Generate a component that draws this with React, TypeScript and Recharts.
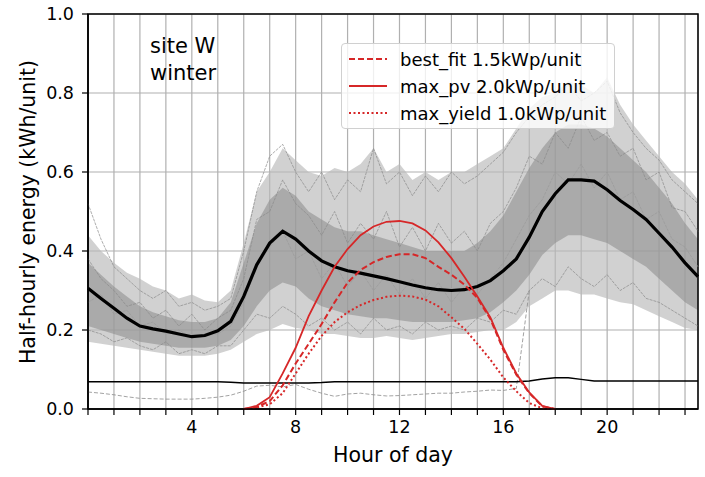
import React from "react";
import {
  ComposedChart,
  Line,
  Area,
  XAxis,
  YAxis,
  CartesianGrid,
  ReferenceArea,
} from "recharts";

const FONT = "'DejaVu Sans', 'Liberation Sans', sans-serif";
const RED = "#d62728";

// half-hourly time of day
const hours = [
  0, 0.5, 1, 1.5, 2, 2.5, 3, 3.5, 4, 4.5, 5, 5.5, 6, 6.5, 7, 7.5, 8, 8.5, 9,
  9.5, 10, 10.5, 11, 11.5, 12, 12.5, 13, 13.5, 14, 14.5, 15, 15.5, 16, 16.5,
  17, 17.5, 18, 18.5, 19, 19.5, 20, 20.5, 21, 21.5, 22, 22.5, 23, 23.5,
];
const hourTicks = [
  0, 1, 2, 3, 4, 5, 6, 7, 8, 9, 10, 11, 12, 13, 14, 15, 16, 17, 18, 19, 20,
  21, 22, 23,
];
const energyTicks = [0, 0.2, 0.4, 0.6, 0.8, 1.0];

// mean demand profile (thick black)
const meanProfile = [
  0.306, 0.28, 0.255, 0.23, 0.21, 0.203, 0.197, 0.19, 0.183, 0.186, 0.198,
  0.222, 0.285, 0.365, 0.42, 0.45, 0.43, 0.4, 0.375, 0.36, 0.35, 0.344, 0.337,
  0.33, 0.322, 0.314, 0.307, 0.302, 0.3, 0.302, 0.31, 0.325, 0.35, 0.38,
  0.435, 0.5, 0.545, 0.58, 0.58, 0.577, 0.555, 0.528, 0.505, 0.48, 0.445,
  0.41, 0.37, 0.335,
];
// thin black base line
const baseLoad = [
  0.069, 0.069, 0.069, 0.069, 0.069, 0.069, 0.069, 0.069, 0.069, 0.069, 0.069,
  0.068, 0.066, 0.066, 0.066, 0.066, 0.066, 0.066, 0.067, 0.069, 0.069, 0.069,
  0.069, 0.069, 0.069, 0.069, 0.069, 0.069, 0.069, 0.069, 0.069, 0.069, 0.069,
  0.069, 0.071, 0.076, 0.079, 0.079, 0.075, 0.071, 0.071, 0.071, 0.071, 0.071,
  0.071, 0.071, 0.071, 0.071,
];
// lowest single profile (thin grey dashed)
const minProfile = [
  0.043, 0.04, 0.036, 0.031, 0.027, 0.026, 0.025, 0.025, 0.025, 0.027, 0.03,
  0.035, 0.045, 0.058, 0.06, 0.056, 0.062, 0.05, 0.04, 0.032, 0.038, 0.04,
  0.036, 0.033, 0.034, 0.036, 0.038, 0.04, 0.04, 0.043, 0.045, 0.048, 0.047,
  0.052, 0.3, null, null, null, null, null, null, null, null, null, null, null,
  null, null,
];
// PV generation
const bestFit = [
  null, null, null, null, null, null, null, null, null, null, null, null, 0,
  0.005, 0.02, 0.06, 0.115, 0.165, 0.215, 0.27, 0.32, 0.352, 0.372, 0.385,
  0.392, 0.392, 0.382, 0.36, 0.34, 0.315, 0.281, 0.228, 0.15, 0.087, 0.04,
  0.007, 0, null, null, null, null, null, null, null, null, null, null, null,
];
const maxPv = [
  null, null, null, null, null, null, null, null, null, null, null, null, 0,
  0.008, 0.03, 0.09, 0.155, 0.235, 0.3, 0.36, 0.405, 0.44, 0.462, 0.474,
  0.476, 0.47, 0.452, 0.422, 0.382, 0.335, 0.285, 0.232, 0.155, 0.09, 0.042,
  0.008, 0, null, null, null, null, null, null, null, null, null, null, null,
];
const maxYield = [
  null, null, null, null, null, null, null, null, null, null, null, null, 0,
  0.004, 0.012, 0.04, 0.09, 0.14, 0.185, 0.22, 0.245, 0.263, 0.276, 0.284,
  0.287, 0.285, 0.277, 0.26, 0.232, 0.203, 0.165, 0.125, 0.08, 0.045, 0.015,
  0.002, 0, null, null, null, null, null, null, null, null, null, null, null,
];
// spread of individual daily profiles
const outerLow = [
  0.17, 0.165, 0.16, 0.155, 0.15, 0.145, 0.14, 0.135, 0.135, 0.135, 0.14,
  0.15, 0.17, 0.19, 0.2, 0.215, 0.205, 0.2, 0.19, 0.19, 0.185, 0.18, 0.18,
  0.185, 0.18, 0.175, 0.18, 0.185, 0.19, 0.19, 0.195, 0.2, 0.2, 0.22, 0.26,
  0.28, 0.3, 0.3, 0.29, 0.29, 0.28, 0.27, 0.265, 0.25, 0.235, 0.22, 0.205,
  0.2,
];
const outerHigh = [
  0.44, 0.4, 0.37, 0.345, 0.33, 0.31, 0.3, 0.28, 0.29, 0.275, 0.27, 0.3, 0.42,
  0.55, 0.6, 0.66, 0.63, 0.6, 0.59, 0.61, 0.6, 0.62, 0.66, 0.6, 0.62, 0.58,
  0.6, 0.58, 0.6, 0.6, 0.62, 0.64, 0.66, 0.71, 0.76, 0.79, 0.8, 0.83, 0.82,
  0.8, 0.84, 0.77, 0.72, 0.68, 0.64, 0.6, 0.57, 0.53,
];
const innerLow = [
  0.21, 0.2, 0.19, 0.18, 0.17, 0.165, 0.16, 0.155, 0.155, 0.155, 0.16, 0.175,
  0.21, 0.26, 0.3, 0.32, 0.31, 0.28, 0.26, 0.25, 0.24, 0.235, 0.23, 0.23,
  0.225, 0.22, 0.22, 0.22, 0.22, 0.225, 0.23, 0.245, 0.27, 0.3, 0.34, 0.39,
  0.42, 0.44, 0.44, 0.43, 0.42, 0.4, 0.38, 0.36, 0.33, 0.3, 0.27, 0.25,
];
const innerHigh = [
  0.37, 0.34, 0.31, 0.285, 0.26, 0.245, 0.235, 0.225, 0.22, 0.22, 0.23, 0.27,
  0.37, 0.47, 0.53, 0.56, 0.54, 0.5, 0.48, 0.46, 0.45, 0.45, 0.44, 0.43, 0.42,
  0.41, 0.4, 0.4, 0.4, 0.4, 0.42, 0.45, 0.49, 0.55, 0.61, 0.66, 0.7, 0.72,
  0.72, 0.71, 0.69, 0.66, 0.63, 0.6, 0.56, 0.52, 0.47, 0.43,
];
// a few single spiky profiles
const dayA = [
  0.52, 0.43, 0.36, 0.33, 0.3, 0.28, 0.3, 0.26, 0.27, 0.25, 0.26, 0.28, 0.4,
  0.55, 0.64, 0.67, 0.6, 0.55, 0.6, 0.53, 0.58, 0.55, 0.66, 0.57, 0.6, 0.54,
  0.59, 0.55, 0.6, 0.57, 0.59, 0.62, 0.65, 0.7, 0.74, 0.77, 0.79, 0.82, 0.78,
  0.8, 0.83, 0.75, 0.7, 0.66, 0.63, 0.58, 0.55, 0.52,
];
const dayB = [
  0.2, 0.19, 0.17, 0.18, 0.16, 0.15, 0.17, 0.14, 0.15, 0.14, 0.16, 0.16, 0.2,
  0.24, 0.23, 0.26, 0.24, 0.21, 0.23, 0.2, 0.22, 0.19, 0.23, 0.2, 0.21, 0.19,
  0.22, 0.2, 0.21, 0.2, 0.23, 0.22, 0.25, 0.24, 0.3, 0.33, 0.31, 0.36, 0.33,
  0.31, 0.34, 0.3, 0.32, 0.28, 0.27, 0.25, 0.23, 0.21,
];
const dayC = [
  0.38, 0.33, 0.3, 0.26, 0.27, 0.23, 0.25, 0.21, 0.24, 0.2, 0.23, 0.25, 0.33,
  0.48, 0.5, 0.58, 0.52, 0.49, 0.44, 0.5, 0.42, 0.47, 0.43, 0.5, 0.41, 0.46,
  0.4, 0.47, 0.42, 0.45, 0.4, 0.47, 0.5, 0.56, 0.64, 0.62, 0.7, 0.66, 0.74,
  0.68, 0.7, 0.64, 0.66, 0.58, 0.6, 0.51, 0.5, 0.45,
];
const dayD = [
  0.27, 0.29, 0.24, 0.25, 0.21, 0.22, 0.19, 0.2, 0.18, 0.19, 0.19, 0.21, 0.27,
  0.36, 0.41, 0.45, 0.38, 0.4, 0.33, 0.37, 0.31, 0.35, 0.3, 0.34, 0.29, 0.33,
  0.28, 0.32, 0.27, 0.31, 0.29, 0.33, 0.37, 0.43, 0.49, 0.53, 0.6, 0.57, 0.62,
  0.56, 0.6, 0.53, 0.55, 0.48, 0.5, 0.43, 0.41, 0.36,
];

const legendItems = [
  { label: "best_fit 1.5kWp/unit", dash: "6 3" },
  { label: "max_pv 2.0kWp/unit", dash: undefined },
  { label: "max_yield 1.0kWp/unit", dash: "2 2.5" },
];

const rows = hours.map((h, i) => ({
  hour: h,
  mean: meanProfile[i],
  base: baseLoad[i],
  minDay: minProfile[i],
  bestFit: bestFit[i],
  maxPv: maxPv[i],
  maxYield: maxYield[i],
  outer: [outerLow[i], outerHigh[i]],
  inner: [innerLow[i], innerHigh[i]],
  dayA: dayA[i],
  dayB: dayB[i],
  dayC: dayC[i],
  dayD: dayD[i],
}));

const tickStyle = { fill: "#000", fontSize: 17.5, fontFamily: FONT };

export default function App() {
  return (
    <div
      style={{
        position: "absolute",
        left: 0,
        top: 0,
        width: 705,
        height: 477,
        background: "#fff",
        fontFamily: FONT,
      }}
    >
      <ComposedChart
        width={705}
        height={477}
        data={rows}
        margin={{ top: 14, right: 7, bottom: 0, left: 0 }}
      >
        <CartesianGrid stroke="#b0b0b0" strokeWidth={1.2} />
        <XAxis
          dataKey="hour"
          type="number"
          domain={[0, 23.5]}
          ticks={hourTicks}
          interval={0}
          height={68}
          tickFormatter={(v: number) => (v > 0 && v % 4 === 0 ? String(v) : "")}
          tick={tickStyle}
          tickSize={6}
          tickMargin={6}
          axisLine={{ stroke: "#000", strokeWidth: 1.5 }}
          tickLine={{ stroke: "#000", strokeWidth: 1.2 }}
          label={{
            value: "Hour of day",
            position: "insideBottom",
            offset: 15,
            fontSize: 20.5,
            fontFamily: FONT,
            fill: "#000",
          }}
        />
        <YAxis
          type="number"
          domain={[0, 1]}
          ticks={energyTicks}
          width={88}
          tickFormatter={(v: number) => v.toFixed(1)}
          tick={tickStyle}
          tickSize={6}
          tickMargin={8}
          axisLine={{ stroke: "#000", strokeWidth: 1.5 }}
          tickLine={{ stroke: "#000", strokeWidth: 1.2 }}
          label={{
            content: () => (
              <text
                x={28}
                y={212}
                transform="rotate(-90 28 212)"
                textAnchor="middle"
                dominantBaseline="central"
                fontSize={20.5}
                fontFamily={FONT}
                fill="#000"
              >
                Half-hourly energy (kWh/unit)
              </text>
            ),
          }}
        />
        <Area
          dataKey="outer"
          type="linear"
          stroke="none"
          fill="#b8b8b8"
          fillOpacity={0.65}
          isAnimationActive={false}
        />
        <Area
          dataKey="inner"
          type="linear"
          stroke="none"
          fill="#8a8a8a"
          fillOpacity={0.55}
          isAnimationActive={false}
        />
        <Line dataKey="dayA" type="linear" stroke="#8a8a8a" strokeWidth={0.7} strokeDasharray="3 1" dot={false} isAnimationActive={false} />
        <Line dataKey="dayB" type="linear" stroke="#8a8a8a" strokeWidth={0.7} strokeDasharray="3 1" dot={false} isAnimationActive={false} />
        <Line dataKey="dayC" type="linear" stroke="#8a8a8a" strokeWidth={0.7} strokeDasharray="3 1" dot={false} isAnimationActive={false} />
        <Line dataKey="dayD" type="linear" stroke="#9a9a9a" strokeWidth={0.7} strokeDasharray="3 1" dot={false} isAnimationActive={false} />
        <Line dataKey="minDay" type="linear" stroke="#8a8a8a" strokeWidth={0.8} strokeDasharray="4 2" dot={false} isAnimationActive={false} />
        <Line dataKey="base" type="linear" stroke="#000" strokeWidth={1.5} dot={false} isAnimationActive={false} />
        <Line dataKey="mean" type="linear" stroke="#000" strokeWidth={3.2} dot={false} isAnimationActive={false} />
        <Line dataKey="bestFit" type="linear" stroke={RED} strokeWidth={2} strokeDasharray="6 3" dot={false} isAnimationActive={false} />
        <Line dataKey="maxPv" type="linear" stroke={RED} strokeWidth={1.8} dot={false} isAnimationActive={false} />
        <Line dataKey="maxYield" type="linear" stroke={RED} strokeWidth={2} strokeDasharray="2 2.5" dot={false} isAnimationActive={false} />
        <ReferenceArea
          x1={0}
          x2={23.5}
          y1={0}
          y2={1}
          fill="none"
          stroke="#000"
          strokeWidth={1.5}
        />
      </ComposedChart>

      <div
        style={{
          position: "absolute",
          left: 150,
          top: 33,
          fontSize: 21,
          lineHeight: "27px",
          color: "#000",
        }}
      >
        <div>site W</div>
        <div>winter</div>
      </div>

      <div
        style={{
          position: "absolute",
          left: 341,
          top: 43,
          width: 274,
          height: 86,
          boxSizing: "border-box",
          background: "rgba(255,255,255,0.8)",
          border: "1px solid #d0d0d0",
          borderRadius: 4,
        }}
      >
        {legendItems.map((item, i) => (
          <div
            key={item.label}
            style={{
              position: "absolute",
              left: 6,
              top: 4 + i * 27,
              height: 22,
              display: "flex",
              alignItems: "center",
              whiteSpace: "nowrap",
            }}
          >
            <svg width={40} height={20}>
              <line
                x1={1}
                y1={10}
                x2={39}
                y2={10}
                stroke={RED}
                strokeWidth={2}
                strokeDasharray={item.dash}
              />
            </svg>
            <span style={{ marginLeft: 12, fontSize: 18, color: "#000" }}>
              {item.label}
            </span>
          </div>
        ))}
      </div>
    </div>
  );
}
